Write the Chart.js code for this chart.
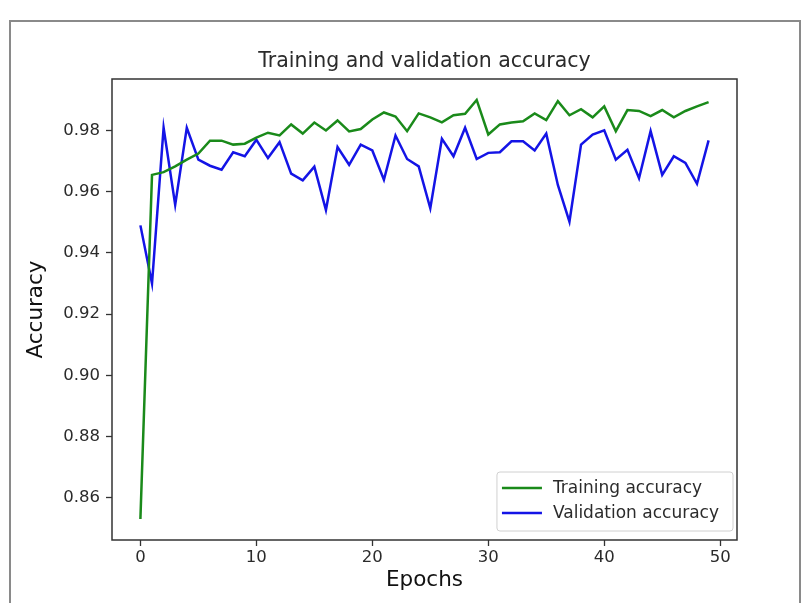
<!DOCTYPE html>
<html>
<head>
<meta charset="utf-8">
<script src="https://cdn.jsdelivr.net/npm/chart.js@4/dist/chart.umd.min.js"></script>
<style>
  html, body { margin: 0; padding: 0; background: #fff; }
  #wrap { position: relative; width: 810px; height: 603px; overflow: hidden; }
  #frame { position: absolute; left: 9px; top: 20px; width: 788px; height: 600px;
           border-left: 2px solid #8a8a8a; border-top: 2px solid #8a8a8a; border-right: 2px solid #8a8a8a; }
  #chart { position: absolute; left: 0; top: 0; }
</style>
</head>
<body>
<div id="wrap">
  <div id="frame"></div>
  <canvas id="chart" width="810" height="603"></canvas>
</div>
<script>
'use strict';

// values
const trainAcc = [0.853, 0.9655, 0.9664, 0.9683, 0.9705, 0.9725, 0.9767, 0.9767, 0.9754, 0.9757,
  0.9777, 0.9793, 0.9784, 0.982, 0.979, 0.9826, 0.980, 0.9833, 0.9797, 0.9805,
  0.9836, 0.9859, 0.9846, 0.9798, 0.9856, 0.9843, 0.9827, 0.985, 0.9855, 0.990,
  0.9787, 0.982, 0.9826, 0.983, 0.9856, 0.9834, 0.9896, 0.985, 0.987, 0.9843,
  0.9879, 0.9798, 0.9867, 0.9864, 0.9847, 0.9867, 0.9843, 0.9864, 0.9879, 0.9893];
const valAcc = [0.949, 0.930, 0.9809, 0.9557, 0.9809, 0.9705, 0.9685, 0.9672, 0.9729, 0.9716,
  0.977, 0.971, 0.9762, 0.9659, 0.9637, 0.9682, 0.954, 0.9746, 0.9688, 0.9754,
  0.9735, 0.9639, 0.9784, 0.9707, 0.9683, 0.9546, 0.9773, 0.9716, 0.9809, 0.9707,
  0.9727, 0.9729, 0.9765, 0.9765, 0.9735, 0.979, 0.9622, 0.9502, 0.9754, 0.9787,
  0.9801, 0.9705, 0.9737, 0.9644, 0.9798, 0.9655, 0.9716, 0.9694, 0.9626, 0.9768];
const xTicks = [0, 10, 20, 30, 40, 50];
const yTicks = [0.86, 0.88, 0.90, 0.92, 0.94, 0.96, 0.98];
const seriesLabels = ['Training accuracy', 'Validation accuracy'];
const titleText = 'Training and validation accuracy';

const FONT = 'DejaVu Sans';
const TEXT = '#2b2b2b';

const epochs = trainAcc.map((v, i) => i);
const pts = arr => arr.map((v, i) => ({ x: epochs[i], y: v }));

// matplotlib style 5% margins
const allY = trainAcc.concat(valAcc);
const yLo = Math.min(...allY), yHi = Math.max(...allY);
const yPad = (yHi - yLo) * 0.05;
const xPad = (epochs[epochs.length - 1] - epochs[0]) * 0.05;

// title + frame + legend drawn inside the plot, matplotlib-like
const mplBits = {
  id: 'mplBits',
  afterDraw(chart) {
    const ctx = chart.ctx;
    const a = chart.chartArea;
    ctx.save();
    ctx.strokeStyle = '#333';
    ctx.lineWidth = 1.5;
    ctx.strokeRect(a.left, a.top, a.right - a.left, a.bottom - a.top);

    ctx.fillStyle = TEXT;
    ctx.font = '20.5px "' + FONT + '"';
    ctx.textAlign = 'center';
    ctx.textBaseline = 'middle';
    ctx.fillText(titleText, (a.left + a.right) / 2, 62);

    // legend, lower right
    ctx.font = '17px "' + FONT + '"';
    const textW = Math.max(...seriesLabels.map(s => ctx.measureText(s).width));
    const boxW = 5 + 40 + 11 + textW + 14;
    const boxH = 59;
    const bx = a.right - 4 - boxW;
    const by = a.bottom - 9 - boxH;
    ctx.fillStyle = 'rgba(255,255,255,0.85)';
    ctx.strokeStyle = '#d0d0d0';
    ctx.lineWidth = 1;
    ctx.beginPath();
    ctx.roundRect(bx, by, boxW, boxH, 3);
    ctx.fill();
    ctx.stroke();
    chart.data.datasets.forEach((ds, i) => {
      const cy = by + 16 + i * 25;
      ctx.strokeStyle = ds.borderColor;
      ctx.lineWidth = 2.5;
      ctx.beginPath();
      ctx.moveTo(bx + 5, cy);
      ctx.lineTo(bx + 45, cy);
      ctx.stroke();
      ctx.fillStyle = TEXT;
      ctx.textAlign = 'left';
      ctx.fillText(ds.label, bx + 56, cy + 1);
    });
    ctx.restore();
  }
};

new Chart(document.getElementById('chart'), {
  type: 'line',
  data: {
    datasets: [
      { label: seriesLabels[0], data: pts(trainAcc), borderColor: '#1a8a1a', borderWidth: 2.5,
        pointRadius: 0, tension: 0, fill: false },
      { label: seriesLabels[1], data: pts(valAcc), borderColor: '#1414e6', borderWidth: 2.5,
        pointRadius: 0, tension: 0, fill: false }
    ]
  },
  options: {
    responsive: false,
    animation: false,
    layout: { padding: { left: 0, right: 73, top: 79, bottom: 0 } },
    plugins: { legend: { display: false }, title: { display: false }, tooltip: { enabled: false } },
    scales: {
      x: {
        type: 'linear',
        min: epochs[0] - xPad,
        max: epochs[epochs.length - 1] + xPad,
        afterBuildTicks: s => { s.ticks = xTicks.map(v => ({ value: v })); },
        afterFit: s => { s.height = 63; },
        grid: { drawOnChartArea: false, drawTicks: true, tickLength: 6, color: '#333', tickWidth: 1.3 },
        border: { display: false },
        ticks: { color: TEXT, padding: 2, maxRotation: 0, font: { family: FONT, size: 16.5 },
                 callback: v => String(v) },
        title: { display: true, text: 'Epochs', color: '#111', padding: { top: 0, bottom: 10 },
                 font: { family: FONT, size: 21.5 } }
      },
      y: {
        type: 'linear',
        min: yLo - yPad,
        max: yHi + yPad,
        afterBuildTicks: s => { s.ticks = yTicks.map(v => ({ value: v })); },
        afterFit: s => { s.width = 112; },
        grid: { drawOnChartArea: false, drawTicks: true, tickLength: 6, color: '#333', tickWidth: 1.3 },
        border: { display: false },
        ticks: { color: TEXT, padding: 6, font: { family: FONT, size: 16.5 },
                 callback: v => v.toFixed(2) },
        title: { display: true, text: 'Accuracy', color: '#111', padding: { top: 24, bottom: 0 },
                 font: { family: FONT, size: 21.5 } }
      }
    }
  },
  plugins: [mplBits]
});
</script>
</body>
</html>
